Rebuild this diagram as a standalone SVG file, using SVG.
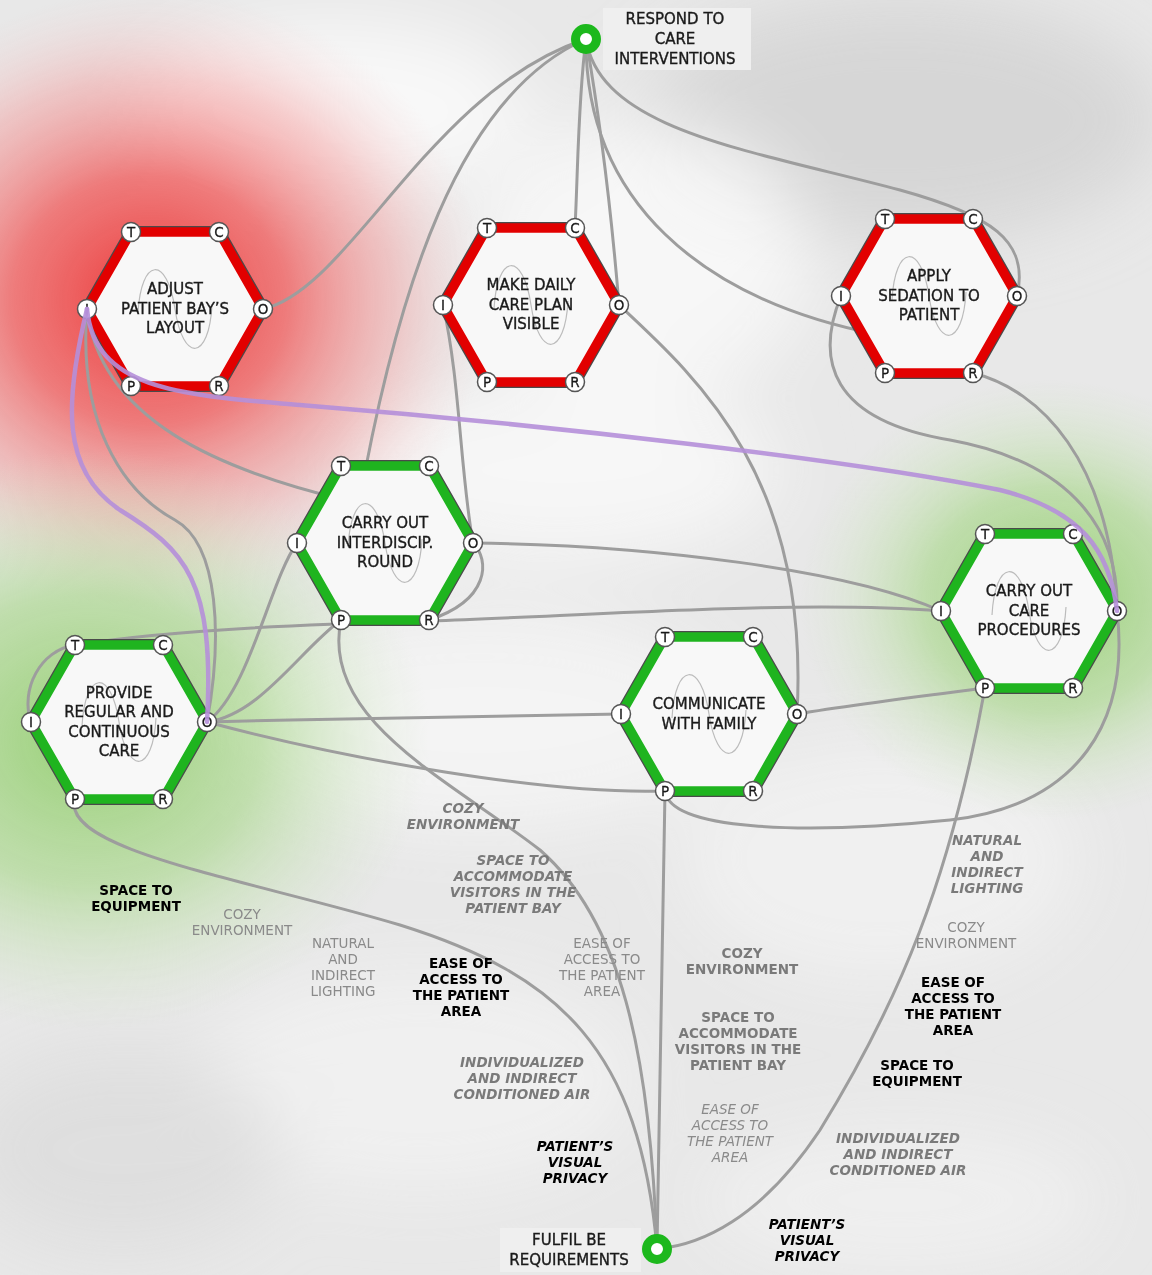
<svg xmlns="http://www.w3.org/2000/svg" width="1152" height="1275" viewBox="0 0 1152 1275">
<defs>
  <filter id="blur" x="-50%" y="-50%" width="200%" height="200%"><feGaussianBlur stdDeviation="35"/></filter>
  <radialGradient id="redG" cx="0.5" cy="0.5" r="0.5">
    <stop offset="0" stop-color="#ec2a2a" stop-opacity="0.92"/>
    <stop offset="0.4" stop-color="#f05050" stop-opacity="0.72"/>
    <stop offset="0.72" stop-color="#f49a9a" stop-opacity="0.45"/>
    <stop offset="1" stop-color="#f8d0d0" stop-opacity="0"/>
  </radialGradient>
  <radialGradient id="greenG" cx="0.5" cy="0.5" r="0.5">
    <stop offset="0" stop-color="#8acb62" stop-opacity="0.85"/>
    <stop offset="0.5" stop-color="#a4d684" stop-opacity="0.6"/>
    <stop offset="1" stop-color="#d0e8c0" stop-opacity="0"/>
  </radialGradient>
  <style>
    .conn{fill:none;stroke:#9d9d9d;stroke-width:3;stroke-linecap:round}
    .hl{fill:none;stroke:#b58fd9;stroke-width:4.5;stroke-linecap:round;stroke-opacity:0.9}
    .hexOut{fill:none;stroke:#4a4a4a;stroke-width:12;stroke-linejoin:miter}
    .hexR{fill:#f8f8f8;stroke:#e20000;stroke-width:9.5;stroke-linejoin:miter}
    .hexG{fill:#f8f8f8;stroke:#1fb41f;stroke-width:9.5;stroke-linejoin:miter}
    .wave{fill:none;stroke:#bcbcbc;stroke-width:1.2}
    .nt{font-family:"DejaVu Sans",sans-serif;font-size:15px;fill:#1a1a1a;stroke:#1a1a1a;stroke-width:0.35;text-anchor:middle}
    .port circle{fill:#fff;stroke:#555;stroke-width:1.5}
    .port text{font-family:"DejaVu Sans",sans-serif;font-size:13.5px;fill:#1a1a1a;stroke:#1a1a1a;stroke-width:0.3;text-anchor:middle}
    .lbl{font-family:"DejaVu Sans",sans-serif;font-size:13.5px;text-anchor:middle}
    .bk{fill:#000;font-weight:bold}
    .gb{fill:#7a7a7a;font-weight:bold}
    .gr{fill:#8a8a8a}
    .it{font-style:italic}
    .ring{fill:#fff;stroke:#1cb81c;stroke-width:9}
  </style>
</defs>

<!-- background -->
<rect width="1152" height="1275" fill="#e8e8e8"/>
<g filter="url(#blur)">
  <ellipse cx="900" cy="120" rx="260" ry="120" fill="#d6d6d6"/>
  <ellipse cx="330" cy="110" rx="200" ry="90" fill="#ffffff" opacity="0.7"/>
  <ellipse cx="640" cy="260" rx="170" ry="140" fill="#fafafa" opacity="0.8"/>
  <ellipse cx="560" cy="470" rx="220" ry="90" fill="#fafafa" opacity="0.8"/>
  <ellipse cx="480" cy="720" rx="260" ry="110" fill="#f6f6f6" opacity="0.8"/>
  <ellipse cx="880" cy="860" rx="200" ry="120" fill="#f4f4f4" opacity="0.7"/>
  <ellipse cx="420" cy="1080" rx="220" ry="110" fill="#f3f3f3" opacity="0.7"/>
  <ellipse cx="900" cy="1200" rx="200" ry="70" fill="#f2f2f2" opacity="0.7"/>
  <ellipse cx="120" cy="1150" rx="160" ry="100" fill="#dcdcdc" opacity="0.8"/>
</g>
<ellipse cx="150" cy="300" rx="340" ry="310" fill="url(#redG)"/>
<ellipse cx="90" cy="740" rx="340" ry="290" fill="url(#greenG)"/>
<ellipse cx="1050" cy="600" rx="250" ry="220" fill="url(#greenG)"/>

<!-- connectors -->
<g id="connectors">
  <path class="conn" d="M263,309 C350,290 430,90 586,39"/>
  <path class="conn" d="M586,39 C470,90 390,260 341,620"/>
  <path class="conn" d="M586,39 C578,100 578,170 575,228"/>
  <path class="conn" d="M586,39 C600,120 612,220 619,305"/>
  <path class="conn" d="M619,305 C700,380 810,480 797,714"/>
  <path class="conn" d="M586,39 C600,130 750,150 900,190 C990,215 1030,240 1017,296"/>
  <path class="conn" d="M586,39 C585,200 700,300 880,335"/>
  <path class="conn" d="M841,296 C815,360 830,420 950,440 C1060,460 1120,520 1117,611"/>
  <path class="conn" d="M973,373 C1040,390 1110,460 1117,611"/>
  <path class="conn" d="M87,309 C78,420 120,490 175,520 C220,545 222,640 207,722"/>
  <path class="conn" d="M87,309 C100,420 220,470 345,500"/>
  <path class="conn" d="M297,543 C270,580 250,690 207,722"/>
  <path class="conn" d="M341,620 C300,650 260,715 207,722"/>
  <path class="conn" d="M207,722 C350,718 500,716 621,714"/>
  <path class="conn" d="M207,722 C350,760 550,795 665,791"/>
  <path class="conn" d="M75,645 C40,650 20,690 31,722"/>
  <path class="conn" d="M75,645 C200,625 400,622 430,621 C600,615 800,600 941,611"/>
  <path class="conn" d="M473,543 C650,545 850,570 941,611"/>
  <path class="conn" d="M443,305 C460,380 460,470 473,543"/>
  <path class="conn" d="M473,543 C490,560 490,600 429,620"/>
  <path class="conn" d="M797,714 C850,705 930,695 985,688"/>
  <path class="conn" d="M665,791 C670,830 800,835 950,820 C1080,805 1130,720 1117,611"/>
  <path class="conn" d="M665,791 C662,950 660,1100 657,1249"/>
  <path class="conn" d="M341,620 C320,720 450,780 540,850 C620,920 650,1050 657,1249"/>
  <path class="conn" d="M75,799 C60,850 250,880 400,925 C560,975 640,1050 657,1249"/>
  <path class="conn" d="M985,688 C950,880 900,1000 820,1130 C760,1220 700,1245 657,1249"/>
</g>

<!-- nodes -->
<g id="node-adjust" transform="translate(175,309)">
  <polygon class="hexOut" points="-44,-77 44,-77 88,0 44,77 -44,77 -88,0"/>
  <polygon class="hexR" points="-44,-77 44,-77 88,0 44,77 -44,77 -88,0"/>
  <path class="wave" d="M-37,4 C-34,-52 -8,-54 0,0 C8,54 34,52 37,-4"/>
  <text class="nt" y="-15">ADJUST</text>
  <text class="nt" y="4.5">PATIENT BAY’S</text>
  <text class="nt" y="24">LAYOUT</text>
  <g class="port" transform="translate(-44,-77)"><circle r="9.5"/><text y="5">T</text></g>
  <g class="port" transform="translate(44,-77)"><circle r="9.5"/><text y="5">C</text></g>
  <g class="port" transform="translate(-88,0)"><circle r="9.5"/><text y="5">I</text></g>
  <g class="port" transform="translate(88,0)"><circle r="9.5"/><text y="5">O</text></g>
  <g class="port" transform="translate(-44,77)"><circle r="9.5"/><text y="5">P</text></g>
  <g class="port" transform="translate(44,77)"><circle r="9.5"/><text y="5">R</text></g>
</g>

<g id="node-careplan" transform="translate(531,305)">
  <polygon class="hexOut" points="-44,-77 44,-77 88,0 44,77 -44,77 -88,0"/>
  <polygon class="hexR" points="-44,-77 44,-77 88,0 44,77 -44,77 -88,0"/>
  <path class="wave" d="M-37,4 C-34,-52 -8,-54 0,0 C8,54 34,52 37,-4"/>
  <text class="nt" y="-15">MAKE DAILY</text>
  <text class="nt" y="4.5">CARE PLAN</text>
  <text class="nt" y="24">VISIBLE</text>
  <g class="port" transform="translate(-44,-77)"><circle r="9.5"/><text y="5">T</text></g>
  <g class="port" transform="translate(44,-77)"><circle r="9.5"/><text y="5">C</text></g>
  <g class="port" transform="translate(-88,0)"><circle r="9.5"/><text y="5">I</text></g>
  <g class="port" transform="translate(88,0)"><circle r="9.5"/><text y="5">O</text></g>
  <g class="port" transform="translate(-44,77)"><circle r="9.5"/><text y="5">P</text></g>
  <g class="port" transform="translate(44,77)"><circle r="9.5"/><text y="5">R</text></g>
</g>

<g id="node-sedation" transform="translate(929,296)">
  <polygon class="hexOut" points="-44,-77 44,-77 88,0 44,77 -44,77 -88,0"/>
  <polygon class="hexR" points="-44,-77 44,-77 88,0 44,77 -44,77 -88,0"/>
  <path class="wave" d="M-37,4 C-34,-52 -8,-54 0,0 C8,54 34,52 37,-4"/>
  <text class="nt" y="-15">APPLY</text>
  <text class="nt" y="4.5">SEDATION TO</text>
  <text class="nt" y="24">PATIENT</text>
  <g class="port" transform="translate(-44,-77)"><circle r="9.5"/><text y="5">T</text></g>
  <g class="port" transform="translate(44,-77)"><circle r="9.5"/><text y="5">C</text></g>
  <g class="port" transform="translate(-88,0)"><circle r="9.5"/><text y="5">I</text></g>
  <g class="port" transform="translate(88,0)"><circle r="9.5"/><text y="5">O</text></g>
  <g class="port" transform="translate(-44,77)"><circle r="9.5"/><text y="5">P</text></g>
  <g class="port" transform="translate(44,77)"><circle r="9.5"/><text y="5">R</text></g>
</g>

<g id="node-round" transform="translate(385,543)">
  <polygon class="hexOut" points="-44,-77 44,-77 88,0 44,77 -44,77 -88,0"/>
  <polygon class="hexG" points="-44,-77 44,-77 88,0 44,77 -44,77 -88,0"/>
  <path class="wave" d="M-37,4 C-34,-52 -8,-54 0,0 C8,54 34,52 37,-4"/>
  <text class="nt" y="-15">CARRY OUT</text>
  <text class="nt" y="4.5">INTERDISCIP.</text>
  <text class="nt" y="24">ROUND</text>
  <g class="port" transform="translate(-44,-77)"><circle r="9.5"/><text y="5">T</text></g>
  <g class="port" transform="translate(44,-77)"><circle r="9.5"/><text y="5">C</text></g>
  <g class="port" transform="translate(-88,0)"><circle r="9.5"/><text y="5">I</text></g>
  <g class="port" transform="translate(88,0)"><circle r="9.5"/><text y="5">O</text></g>
  <g class="port" transform="translate(-44,77)"><circle r="9.5"/><text y="5">P</text></g>
  <g class="port" transform="translate(44,77)"><circle r="9.5"/><text y="5">R</text></g>
</g>

<g id="node-provide" transform="translate(119,722)">
  <polygon class="hexOut" points="-44,-77 44,-77 88,0 44,77 -44,77 -88,0"/>
  <polygon class="hexG" points="-44,-77 44,-77 88,0 44,77 -44,77 -88,0"/>
  <path class="wave" d="M-37,4 C-34,-52 -8,-54 0,0 C8,54 34,52 37,-4"/>
  <text class="nt" y="-24.5">PROVIDE</text>
  <text class="nt" y="-5">REGULAR AND</text>
  <text class="nt" y="14.5">CONTINUOUS</text>
  <text class="nt" y="34">CARE</text>
  <g class="port" transform="translate(-44,-77)"><circle r="9.5"/><text y="5">T</text></g>
  <g class="port" transform="translate(44,-77)"><circle r="9.5"/><text y="5">C</text></g>
  <g class="port" transform="translate(-88,0)"><circle r="9.5"/><text y="5">I</text></g>
  <g class="port" transform="translate(88,0)"><circle r="9.5"/><text y="5">O</text></g>
  <g class="port" transform="translate(-44,77)"><circle r="9.5"/><text y="5">P</text></g>
  <g class="port" transform="translate(44,77)"><circle r="9.5"/><text y="5">R</text></g>
</g>

<g id="node-family" transform="translate(709,714)">
  <polygon class="hexOut" points="-44,-77 44,-77 88,0 44,77 -44,77 -88,0"/>
  <polygon class="hexG" points="-44,-77 44,-77 88,0 44,77 -44,77 -88,0"/>
  <path class="wave" d="M-37,4 C-34,-52 -8,-54 0,0 C8,54 34,52 37,-4"/>
  <text class="nt" y="-5">COMMUNICATE</text>
  <text class="nt" y="14.5">WITH FAMILY</text>
  <g class="port" transform="translate(-44,-77)"><circle r="9.5"/><text y="5">T</text></g>
  <g class="port" transform="translate(44,-77)"><circle r="9.5"/><text y="5">C</text></g>
  <g class="port" transform="translate(-88,0)"><circle r="9.5"/><text y="5">I</text></g>
  <g class="port" transform="translate(88,0)"><circle r="9.5"/><text y="5">O</text></g>
  <g class="port" transform="translate(-44,77)"><circle r="9.5"/><text y="5">P</text></g>
  <g class="port" transform="translate(44,77)"><circle r="9.5"/><text y="5">R</text></g>
</g>

<g id="node-procedures" transform="translate(1029,611)">
  <polygon class="hexOut" points="-44,-77 44,-77 88,0 44,77 -44,77 -88,0"/>
  <polygon class="hexG" points="-44,-77 44,-77 88,0 44,77 -44,77 -88,0"/>
  <path class="wave" d="M-37,4 C-34,-52 -8,-54 0,0 C8,54 34,52 37,-4"/>
  <text class="nt" y="-15">CARRY OUT</text>
  <text class="nt" y="4.5">CARE</text>
  <text class="nt" y="24">PROCEDURES</text>
  <g class="port" transform="translate(-44,-77)"><circle r="9.5"/><text y="5">T</text></g>
  <g class="port" transform="translate(44,-77)"><circle r="9.5"/><text y="5">C</text></g>
  <g class="port" transform="translate(-88,0)"><circle r="9.5"/><text y="5">I</text></g>
  <g class="port" transform="translate(88,0)"><circle r="9.5"/><text y="5">O</text></g>
  <g class="port" transform="translate(-44,77)"><circle r="9.5"/><text y="5">P</text></g>
  <g class="port" transform="translate(44,77)"><circle r="9.5"/><text y="5">R</text></g>
</g>

<!-- highlighted connectors -->
<g id="connectors-highlight">
  <path class="hl" d="M87,309 C65,400 60,470 120,510 C185,550 215,580 207,722"/>
  <path class="hl" d="M87,309 C95,390 180,395 300,405 C550,425 850,460 1000,490 C1080,510 1110,550 1117,611"/>
</g>

<!-- start / end -->
<g id="node-respond">
  <rect x="603" y="8" width="148" height="62" fill="#efefef"/>
  <text class="nt" x="675" y="24">RESPOND TO</text>
  <text class="nt" x="675" y="44">CARE</text>
  <text class="nt" x="675" y="64">INTERVENTIONS</text>
  <circle class="ring" cx="586" cy="39" r="10.5"/>
</g>
<g id="node-fulfil">
  <rect x="500" y="1228" width="141" height="44" fill="#efefef"/>
  <text class="nt" x="569" y="1245">FULFIL BE</text>
  <text class="nt" x="569" y="1265">REQUIREMENTS</text>
  <circle class="ring" cx="657" cy="1249" r="10.5"/>
</g>

<!-- labels -->
<g id="labels">
  <text class="lbl gb it" x="463" y="813">COZY</text>
  <text class="lbl gb it" x="463" y="829">ENVIRONMENT</text>
  <text class="lbl gb it" x="513" y="865">SPACE TO</text>
  <text class="lbl gb it" x="513" y="881">ACCOMMODATE</text>
  <text class="lbl gb it" x="513" y="897">VISITORS IN THE</text>
  <text class="lbl gb it" x="513" y="913">PATIENT BAY</text>
  <text class="lbl gr" x="602" y="948">EASE OF</text>
  <text class="lbl gr" x="602" y="964">ACCESS TO</text>
  <text class="lbl gr" x="602" y="980">THE PATIENT</text>
  <text class="lbl gr" x="602" y="996">AREA</text>
  <text class="lbl gb it" x="522" y="1067">INDIVIDUALIZED</text>
  <text class="lbl gb it" x="522" y="1083">AND INDIRECT</text>
  <text class="lbl gb it" x="522" y="1099">CONDITIONED AIR</text>
  <text class="lbl bk it" x="575" y="1151">PATIENT’S</text>
  <text class="lbl bk it" x="575" y="1167">VISUAL</text>
  <text class="lbl bk it" x="575" y="1183">PRIVACY</text>

  <text class="lbl bk" x="136" y="895">SPACE TO</text>
  <text class="lbl bk" x="136" y="911">EQUIPMENT</text>
  <text class="lbl gr" x="242" y="919">COZY</text>
  <text class="lbl gr" x="242" y="935">ENVIRONMENT</text>
  <text class="lbl gr" x="343" y="948">NATURAL</text>
  <text class="lbl gr" x="343" y="964">AND</text>
  <text class="lbl gr" x="343" y="980">INDIRECT</text>
  <text class="lbl gr" x="343" y="996">LIGHTING</text>
  <text class="lbl bk" x="461" y="968">EASE OF</text>
  <text class="lbl bk" x="461" y="984">ACCESS TO</text>
  <text class="lbl bk" x="461" y="1000">THE PATIENT</text>
  <text class="lbl bk" x="461" y="1016">AREA</text>

  <text class="lbl gb" x="742" y="958">COZY</text>
  <text class="lbl gb" x="742" y="974">ENVIRONMENT</text>
  <text class="lbl gb" x="738" y="1022">SPACE TO</text>
  <text class="lbl gb" x="738" y="1038">ACCOMMODATE</text>
  <text class="lbl gb" x="738" y="1054">VISITORS IN THE</text>
  <text class="lbl gb" x="738" y="1070">PATIENT BAY</text>
  <text class="lbl gr it" x="730" y="1114">EASE OF</text>
  <text class="lbl gr it" x="730" y="1130">ACCESS TO</text>
  <text class="lbl gr it" x="730" y="1146">THE PATIENT</text>
  <text class="lbl gr it" x="730" y="1162">AREA</text>

  <text class="lbl gb it" x="987" y="845">NATURAL</text>
  <text class="lbl gb it" x="987" y="861">AND</text>
  <text class="lbl gb it" x="987" y="877">INDIRECT</text>
  <text class="lbl gb it" x="987" y="893">LIGHTING</text>
  <text class="lbl gr" x="966" y="932">COZY</text>
  <text class="lbl gr" x="966" y="948">ENVIRONMENT</text>
  <text class="lbl bk" x="953" y="987">EASE OF</text>
  <text class="lbl bk" x="953" y="1003">ACCESS TO</text>
  <text class="lbl bk" x="953" y="1019">THE PATIENT</text>
  <text class="lbl bk" x="953" y="1035">AREA</text>
  <text class="lbl bk" x="917" y="1070">SPACE TO</text>
  <text class="lbl bk" x="917" y="1086">EQUIPMENT</text>
  <text class="lbl gb it" x="898" y="1143">INDIVIDUALIZED</text>
  <text class="lbl gb it" x="898" y="1159">AND INDIRECT</text>
  <text class="lbl gb it" x="898" y="1175">CONDITIONED AIR</text>
  <text class="lbl bk it" x="807" y="1229">PATIENT’S</text>
  <text class="lbl bk it" x="807" y="1245">VISUAL</text>
  <text class="lbl bk it" x="807" y="1261">PRIVACY</text>
</g>
</svg>
